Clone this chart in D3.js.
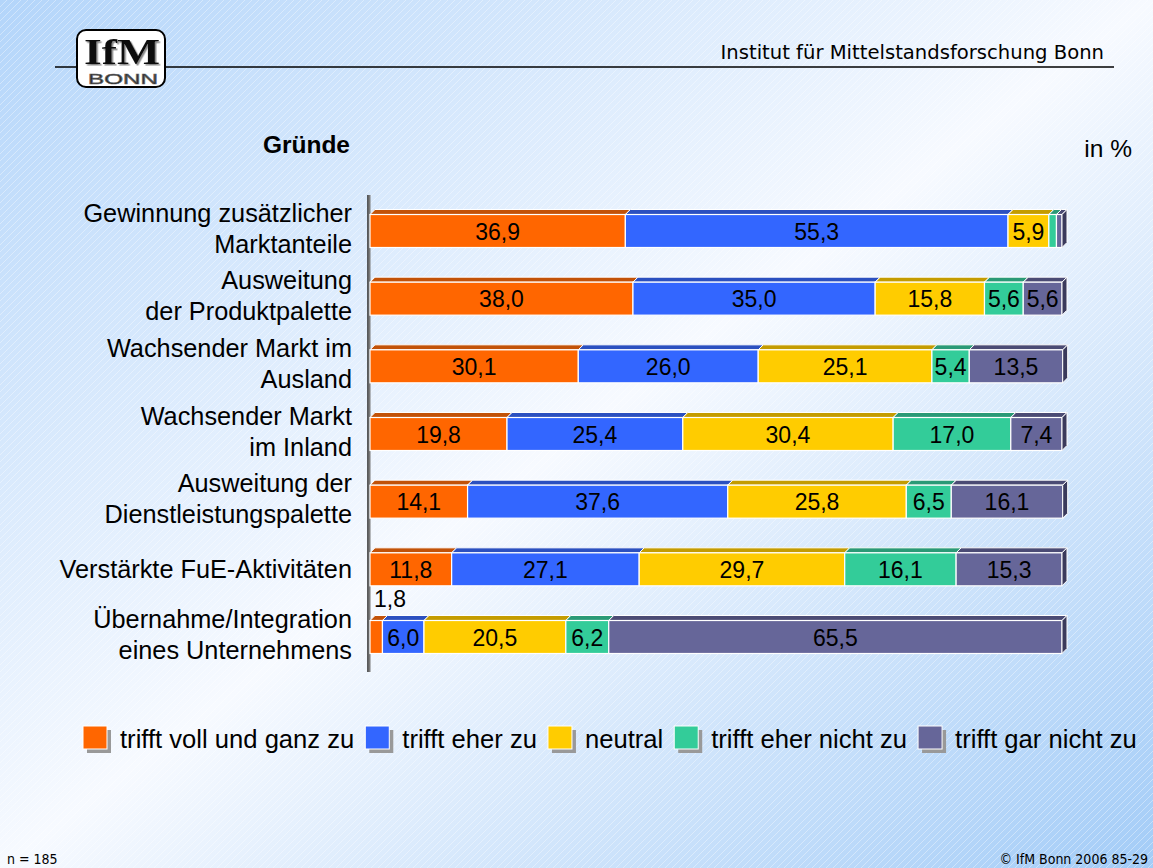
<!DOCTYPE html>
<html>
<head>
<meta charset="utf-8">
<script src="https://cdn.jsdelivr.net/npm/d3@7"></script>
<style>
  html, body { margin: 0; padding: 0; }
  svg { display: block; }
  text { font-family: "Liberation Sans", Arial, sans-serif; fill: #000; }
</style>
</head>
<body>
<svg id="chart" width="1153" height="868"></svg>
<script>
// categories, top to bottom (line breaks as in the slide)
const categories = [
  'Gewinnung zusätzlicher\nMarktanteile',
  'Ausweitung\nder Produktpalette',
  'Wachsender Markt im\nAusland',
  'Wachsender Markt\nim Inland',
  'Ausweitung der\nDienstleistungspalette',
  'Verstärkte FuE-Aktivitäten',
  'Übernahme/Integration\neines Unternehmens'
]

const seriesNames = ['trifft voll und ganz zu', 'trifft eher zu', 'neutral', 'trifft eher nicht zu', 'trifft gar nicht zu']

// values in %
const trifftVoll = [36.9, 38.0, 30.1, 19.8, 14.1, 11.8, 1.8]
const trifftEher = [55.3, 35.0, 26.0, 25.4, 37.6, 27.1, 6.0]
const neutral = [5.9, 15.8, 25.1, 30.4, 25.8, 29.7, 20.5]
const eherNicht = [1.1, 5.6, 5.4, 17.0, 6.5, 16.1, 6.2]
const garNicht = [0.8, 5.6, 13.5, 7.4, 16.1, 15.3, 65.5]

const colors = ['#ff6600', '#3366ff', '#ffcc00', '#33cc99', '#666699']
const topColors = ['#c25208', '#2b50c0', '#c49c00', '#2a9a76', '#4b4b74']
const sideColors = ['#9a4000', '#1f3c94', '#9a7a00', '#1f7a5c', '#3a3a5c']

const rows = categories.map((c, i) => ({
  cat: c,
  s0: trifftVoll[i], s1: trifftEher[i], s2: neutral[i], s3: eherNicht[i], s4: garNicht[i]
}))
const keys = ['s0', 's1', 's2', 's3', 's4']

const svg = d3.select('#chart')
const W = 1153, H = 868

// background
const defs = svg.append('defs')
const grad = defs.append('linearGradient').attr('id', 'bg')
  .attr('x1', 0).attr('y1', 0).attr('x2', 1).attr('y2', 1)
grad.append('stop').attr('offset', '0%').attr('stop-color', '#b3d5fa')
grad.append('stop').attr('offset', '50%').attr('stop-color', '#f7faff')
grad.append('stop').attr('offset', '100%').attr('stop-color', '#a3ccf7')
const hatch = defs.append('pattern').attr('id', 'hatch')
  .attr('width', 7).attr('height', 7).attr('patternUnits', 'userSpaceOnUse')
hatch.append('path').attr('d', 'M0,7 L7,0 M-1,1 L1,-1 M6,8 L8,6')
  .attr('stroke', '#ffffff').attr('stroke-width', 0.8).attr('opacity', 0.45)
const shadow = defs.append('filter').attr('id', 'logoShadow')
shadow.append('feDropShadow').attr('dx', 1.5).attr('dy', 1.5).attr('stdDeviation', 0.6)
  .attr('flood-color', '#888')

svg.append('rect').attr('width', W).attr('height', H).attr('fill', 'url(#bg)')
svg.append('rect').attr('width', W).attr('height', H).attr('fill', 'url(#hatch)')

// header
svg.append('line').attr('x1', 55).attr('x2', 1114).attr('y1', 67).attr('y2', 67)
  .attr('stroke', '#000').attr('stroke-width', 1.5)
svg.append('text').attr('x', 1104).attr('y', 59).attr('text-anchor', 'end')
  .style('font-family', '"DejaVu Sans", sans-serif').style('font-size', '19.6px')
  .text('Institut für Mittelstandsforschung Bonn')

// logo
const logo = svg.append('g')
logo.append('rect').attr('x', 77).attr('y', 30).attr('width', 88).attr('height', 57).attr('rx', 9)
  .attr('fill', '#fff').attr('stroke', '#000').attr('stroke-width', 2)
logo.append('text').attr('x', 122).attr('y', 64).attr('text-anchor', 'middle')
  .attr('textLength', 76).attr('lengthAdjust', 'spacingAndGlyphs')
  .attr('filter', 'url(#logoShadow)')
  .style('font-family', '"Liberation Serif", serif').style('font-weight', 'bold').style('font-size', '35px')
  .style('fill', '#111').text('IfM')
logo.append('text').attr('x', 88).attr('y', 84).attr('textLength', 70).attr('lengthAdjust', 'spacingAndGlyphs')
  .style('font-size', '14px').style('fill', '#222').style('stroke', '#666').style('stroke-width', 0.6)
  .text('BONN')

// titles
svg.append('text').attr('x', 350).attr('y', 153).attr('text-anchor', 'end')
  .style('font-size', '24.5px').style('font-weight', 'bold').text('Gründe')
svg.append('text').attr('x', 1132).attr('y', 157).attr('text-anchor', 'end')
  .style('font-size', '24.5px').text('in %')

// scales
const x = d3.scaleLinear().domain([0, 100]).range([370, 1062])
const y = d3.scalePoint().domain(categories).range([231, 637])
const barH = 33, depth = 5, skew = 5

// axis line
svg.append('line').attr('x1', 369).attr('x2', 369).attr('y1', 195).attr('y2', 672)
  .attr('stroke', '#7a7a7a').attr('stroke-width', 3)
svg.append('line').attr('x1', 367.8).attr('x2', 367.8).attr('y1', 195).attr('y2', 672)
  .attr('stroke', '#333').attr('stroke-width', 1)

// category labels
const catG = svg.append('g')
categories.forEach(c => {
  const lines = c.split('\n')
  const cy = y(c) - (lines.length > 1 ? 3 : 0)
  const t = catG.append('text').attr('text-anchor', 'end').style('font-size', '25.3px')
  lines.forEach((ln, j) => {
    t.append('tspan').attr('x', 352)
      .attr('y', cy + (j - (lines.length - 1) / 2) * 31 + 9)
      .text(ln)
  })
})

// stacked bars
const stacked = d3.stack().keys(keys)(rows)
const fmt = v => d3.format('.1f')(v).replace('.', ',')

stacked.forEach((layer, k) => {
  const g = svg.append('g')
  layer.forEach(seg => {
    const x0 = x(seg[0]), x1 = x(seg[1])
    const yTop = y(seg.data.cat) - barH / 2
    // top face
    g.append('path')
      .attr('d', `M${x0},${yTop} L${x0 + skew},${yTop - depth} L${x1 + skew},${yTop - depth} L${x1},${yTop} Z`)
      .attr('fill', topColors[k]).attr('stroke', '#fff').attr('stroke-width', 1)
    // front face
    g.append('rect').attr('x', x0).attr('y', yTop).attr('width', x1 - x0).attr('height', barH)
      .attr('fill', colors[k]).attr('stroke', '#fff').attr('stroke-width', 1.2)
    // right side face on the last segment
    if (k === keys.length - 1) {
      g.append('path')
        .attr('d', `M${x1},${yTop} L${x1 + skew},${yTop - depth} L${x1 + skew},${yTop + barH - depth} L${x1},${yTop + barH} Z`)
        .attr('fill', sideColors[k]).attr('stroke', '#fff').attr('stroke-width', 1)
    }
  })
})

// value labels
stacked.forEach(layer => {
  layer.forEach(seg => {
    const v = seg[1] - seg[0]
    if (v < 1.5) return
    const cy = y(seg.data.cat)
    if (v < 3) {
      svg.append('text').attr('x', x(seg[0]) + 4).attr('y', cy - barH / 2 - depth - 9)
        .style('font-size', '23px').text(fmt(v))
    } else {
      svg.append('text').attr('x', (x(seg[0]) + x(seg[1])) / 2).attr('y', cy + 8.5)
        .attr('text-anchor', 'middle').style('font-size', '23px').text(fmt(v))
    }
  })
})

// legend
const leg = svg.append('g')
let lx = 83
seriesNames.forEach((name, k) => {
  leg.append('rect').attr('x', lx + 4).attr('y', 730).attr('width', 24).attr('height', 23).attr('fill', '#999')
  leg.append('rect').attr('x', lx).attr('y', 726).attr('width', 24).attr('height', 23)
    .attr('fill', colors[k]).attr('stroke', '#fff').attr('stroke-width', 1)
  const t = leg.append('text').attr('x', lx + 37).attr('y', 748).style('font-size', '25.6px').text(name)
  lx += 37 + t.node().getComputedTextLength() + 11
})

// footer
svg.append('text').attr('x', 7).attr('y', 864)
  .style('font-family', '"DejaVu Sans Condensed", "DejaVu Sans", sans-serif').style('font-size', '14px')
  .text('n = 185')
svg.append('text').attr('x', 1148).attr('y', 864).attr('text-anchor', 'end')
  .style('font-family', '"DejaVu Sans Condensed", "DejaVu Sans", sans-serif').style('font-size', '14px')
  .text('© IfM Bonn 2006  85-29')
</script>
</body>
</html>
